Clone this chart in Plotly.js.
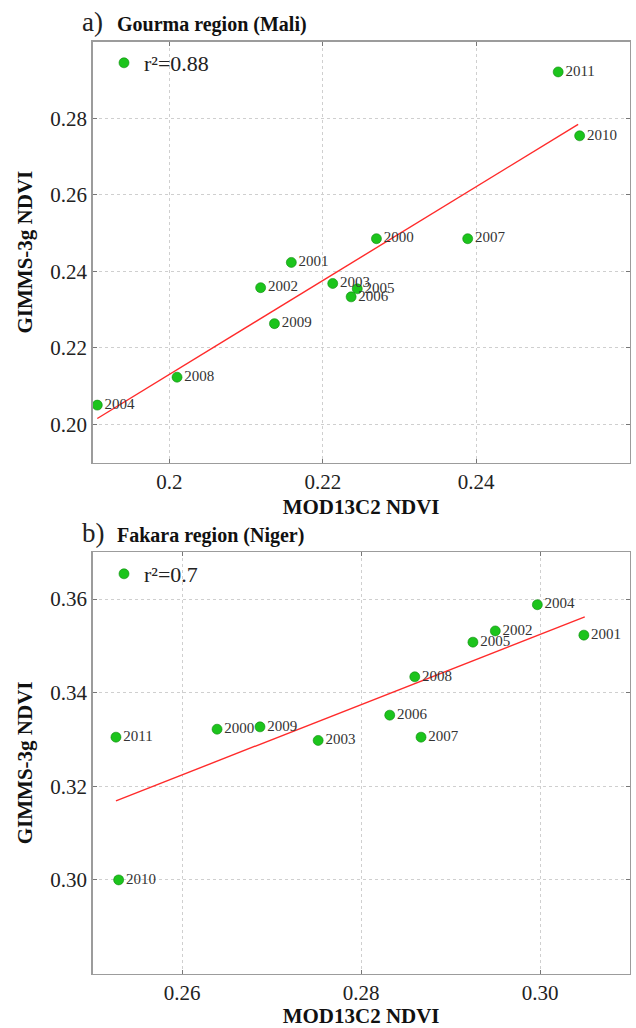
<!DOCTYPE html>
<html>
<head>
<meta charset="utf-8">
<script src="https://cdn.plot.ly/plotly-3.0.1.min.js"></script>
<style>html,body{margin:0;padding:0;background:#fff;}#chart{width:636px;height:1028px;}</style>
</head>
<body>
<div id="chart"></div>
<script>
// ---- data ----
const years = ["2000","2001","2002","2003","2004","2005","2006","2007","2008","2009","2010","2011"];

// a) Gourma region (Mali)
const modisA  = [0.2270, 0.2159, 0.2119, 0.2213, 0.1906, 0.2245, 0.2237, 0.2389, 0.2010, 0.2137, 0.2535, 0.2507];
const gimmsA  = [0.2485, 0.2423, 0.2357, 0.2368, 0.2050, 0.2354, 0.2333, 0.2485, 0.2123, 0.2263, 0.2754, 0.2921];
const fitAx   = [0.1906, 0.2533];
const fitAy   = [0.2015, 0.2784];
const r2A     = "r²=0.88";

// b) Fakara region (Niger)
const modisB  = [0.2639, 0.3049, 0.2950, 0.2752, 0.2997, 0.2925, 0.2832, 0.2867, 0.2860, 0.2687, 0.2529, 0.2526];
const gimmsB  = [0.3322, 0.3523, 0.3532, 0.3298, 0.3588, 0.3508, 0.3352, 0.3305, 0.3434, 0.3327, 0.3000, 0.3305];
const fitBx   = [0.2526, 0.3050];
const fitBy   = [0.3169, 0.3562];
const r2B     = "r²=0.7";

const xTicksA = [0.20, 0.22, 0.24];
const xTickTextA = ["0.2", "0.22", "0.24"];
const yTicksA = [0.20, 0.22, 0.24, 0.26, 0.28];
const yTickTextA = ["0.20", "0.22", "0.24", "0.26", "0.28"];
const xTicksB = [0.26, 0.28, 0.30];
const xTickTextB = ["0.26", "0.28", "0.30"];
const yTicksB = [0.30, 0.32, 0.34, 0.36];
const yTickTextB = ["0.30", "0.32", "0.34", "0.36"];

const panelLabels = ["a)", "b)"];
const panelTitles = ["Gourma region (Mali)", "Fakara region (Niger)"];
const xTitle = "MOD13C2 NDVI";
const yTitle = "GIMMS-3g NDVI";

// ---- styling ----
const W = 636, H = 1028;
const px = v => v / W;
const py = v => 1 - v / H;
const SERIF = "Liberation Serif, Times New Roman, serif";
const GREEN = "#1cc41c";
const RED = "#ff2b2b";

function pts(x, y, xa, ya, name, legend) {
  return {
    type: "scatter", mode: "markers+text", x: x, y: y, text: years,
    textposition: "middle right",
    textfont: {family: SERIF, size: 15, color: "#333"},
    marker: {color: GREEN, size: 10, line: {color: "#0d8a0d", width: 0.6}},
    xaxis: xa, yaxis: ya, name: name, legend: legend, showlegend: true,
    cliponaxis: false, hoverinfo: "x+y+text"
  };
}
function fit(x, y, xa, ya) {
  return {type: "scatter", mode: "lines", x: x, y: y, xaxis: xa, yaxis: ya,
          line: {color: RED, width: 1.4}, showlegend: false, hoverinfo: "skip"};
}

const data = [
  fit(fitAx, fitAy, "x", "y"),
  pts(modisA, gimmsA, "x", "y", r2A, "legend"),
  fit(fitBx, fitBy, "x2", "y2"),
  pts(modisB, gimmsB, "x2", "y2", r2B, "legend2")
];

function axis(extra) {
  return Object.assign({
    showline: true, mirror: "ticks", linecolor: "#9c9c9c", linewidth: 1.5,
    showgrid: true, gridcolor: "#cfcfcf", griddash: "dot", gridwidth: 1,
    zeroline: false, ticks: "inside", ticklen: 4, tickcolor: "#777", tickwidth: 1,
    tickfont: {family: SERIF, size: 21, color: "#222"},
    tickmode: "array", automargin: false
  }, extra);
}
const titleFont = {family: SERIF, size: 21, color: "#111", weight: "bold"};

const xDom = [px(92.7), px(629.5)];
const layout = {
  width: W, height: H,
  margin: {l: 0, r: 0, t: 0, b: 0},
  paper_bgcolor: "#fff", plot_bgcolor: "#fff",
  showlegend: true,
  xaxis: axis({domain: xDom, range: [0.19, 0.26], anchor: "y",
               tickvals: xTicksA, ticktext: xTickTextA,
               title: {text: xTitle, font: titleFont, standoff: 6}}),
  yaxis: axis({domain: [py(462.5), py(41.7)], range: [0.19, 0.30], anchor: "x",
               tickvals: yTicksA, ticktext: yTickTextA,
               title: {text: yTitle, font: titleFont, standoff: 12}}),
  xaxis2: axis({domain: xDom, range: [0.25, 0.31], anchor: "y2",
                tickvals: xTicksB, ticktext: xTickTextB,
                title: {text: xTitle, font: titleFont, standoff: 6}}),
  yaxis2: axis({domain: [py(973.5), py(552.3)], range: [0.28, 0.37], anchor: "x2",
                tickvals: yTicksB, ticktext: yTickTextB,
                title: {text: yTitle, font: titleFont, standoff: 12}}),
  legend: {x: px(104), y: py(42), xanchor: "left", yanchor: "top",
           bgcolor: "rgba(0,0,0,0)", borderwidth: 0,
           font: {family: SERIF, size: 22, color: "#222"}},
  legend2: {x: px(104), y: py(553), xanchor: "left", yanchor: "top",
            bgcolor: "rgba(0,0,0,0)", borderwidth: 0,
            font: {family: SERIF, size: 22, color: "#222"}},
  annotations: [
    {text: panelLabels[0], xref: "paper", yref: "paper", x: px(80), y: py(22),
     xanchor: "left", yanchor: "middle", showarrow: false,
     font: {family: SERIF, size: 27, color: "#222"}},
    {text: "<b>" + panelTitles[0] + "</b>", xref: "paper", yref: "paper", x: px(115), y: py(24),
     xanchor: "left", yanchor: "middle", showarrow: false,
     font: {family: SERIF, size: 20, color: "#111"}},
    {text: panelLabels[1], xref: "paper", yref: "paper", x: px(80), y: py(533),
     xanchor: "left", yanchor: "middle", showarrow: false,
     font: {family: SERIF, size: 27, color: "#222"}},
    {text: "<b>" + panelTitles[1] + "</b>", xref: "paper", yref: "paper", x: px(115), y: py(535),
     xanchor: "left", yanchor: "middle", showarrow: false,
     font: {family: SERIF, size: 20, color: "#111"}}
  ]
};

Plotly.newPlot("chart", data, layout, {staticPlot: true, displayModeBar: false});
</script>
</body>
</html>
